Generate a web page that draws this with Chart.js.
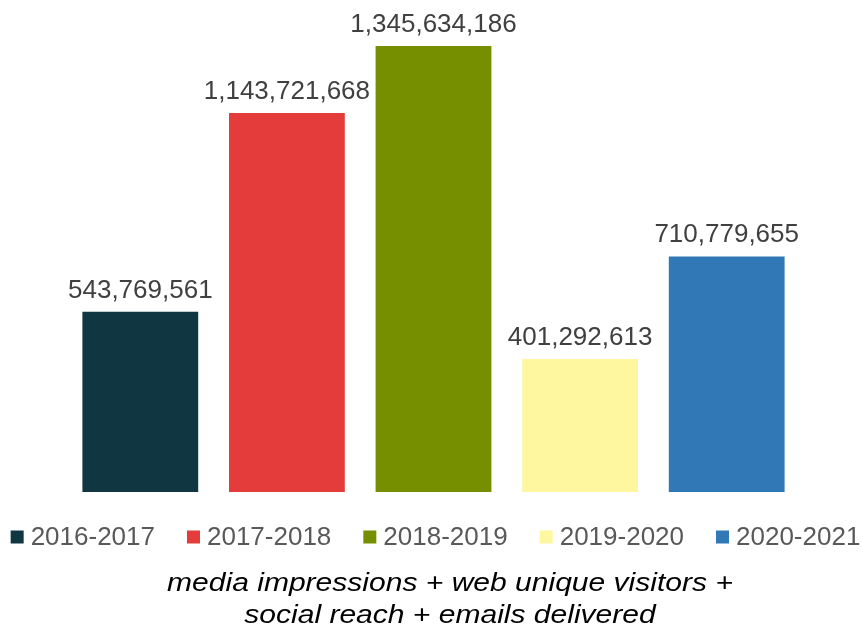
<!DOCTYPE html>
<html>
<head>
<meta charset="utf-8">
<script src="https://cdn.jsdelivr.net/npm/chart.js@4.4.1/dist/chart.umd.min.js"></script>
<style>
    html, body { margin: 0; padding: 0; background: #ffffff; }
    #wrap { width: 863px; height: 632px; }
</style>
</head>
<body>
<div id="wrap"><canvas id="barChart"></canvas></div>
<script>
// ============================
// Données
// ============================
const annees = ['2016-2017', '2017-2018', '2018-2019', '2019-2020', '2020-2021'];
const valeurs = [543769561, 1143721668, 1345634186, 401292613, 710779655];
const couleurs = ['#0F3641', '#E33C3A', '#758F00', '#FFF7A0', '#3178B6'];
const titre = ['media impressions + web unique visitors +', 'social reach + emails delivered'];

const police = '"Liberation Sans", Arial, sans-serif';

// ============================
// Étiquettes au-dessus des barres
// ============================
const etiquettesBarres = {
    id: 'etiquettesBarres',
    afterDatasetsDraw(chart) {
        const ctx = chart.ctx;
        const meta = chart.getDatasetMeta(0);
        ctx.save();
        ctx.font = '26px ' + police;
        ctx.fillStyle = '#404040';
        ctx.textAlign = 'center';
        ctx.textBaseline = 'alphabetic';
        meta.data.forEach((bar, i) => {
            ctx.fillText(valeurs[i].toLocaleString('en-US'), bar.x, bar.y - 14);
        });
        ctx.restore();
    }
};

// ============================
// Légende (une seule ligne) + titre en bas
// ============================
const legendeEtTitre = {
    id: 'legendeEtTitre',
    afterDraw(chart) {
        const ctx = chart.ctx;
        const carre = 13;
        const ecart = 7;
        const entre = 32;
        const bas = chart.chartArea.bottom;
        const yCentre = bas + 45;
        ctx.save();
        ctx.font = '26px ' + police;
        ctx.textBaseline = 'middle';
        ctx.textAlign = 'left';
        const largeurs = annees.map(a => ctx.measureText(a).width);
        let total = 0;
        largeurs.forEach(w => total += carre + ecart + w);
        total += entre * (annees.length - 1);
        let x = (chart.width - total) / 2 + 4;
        annees.forEach((a, i) => {
            ctx.fillStyle = couleurs[i];
            ctx.fillRect(x, yCentre - carre / 2, carre, carre);
            ctx.fillStyle = '#595959';
            ctx.fillText(a, x + carre + ecart, yCentre + 1);
            x += carre + ecart + largeurs[i] + entre;
        });

        // titre : italique, un peu étiré en largeur comme l'original
        ctx.font = 'italic 26px ' + police;
        ctx.fillStyle = '#000000';
        ctx.textAlign = 'center';
        ctx.textBaseline = 'alphabetic';
        titre.forEach((ligne, i) => {
            ctx.save();
            ctx.translate(450, bas + 99 + i * 32);
            ctx.scale(1.155, 1);
            ctx.fillText(ligne, 0, 0);
            ctx.restore();
        });
        ctx.restore();
    }
};

const ctx = document.getElementById('barChart').getContext('2d');
new Chart(ctx, {
    type: 'bar',
    data: {
        labels: annees,
        datasets: [{
            data: valeurs,
            backgroundColor: couleurs,
            categoryPercentage: 1,
            barPercentage: 0.79
        }]
    },
    options: {
        responsive: true,
        maintainAspectRatio: false,
        animation: false,
        layout: {
            padding: { top: 40, left: 67, right: 63, bottom: 140 }
        },
        scales: {
            x: { display: false },
            y: { display: false, min: 0, max: 1363700000 }
        },
        plugins: {
            tooltip: { enabled: false },
            legend: { display: false },
            title: { display: false }
        }
    },
    plugins: [etiquettesBarres, legendeEtTitre]
});
</script>
</body>
</html>
